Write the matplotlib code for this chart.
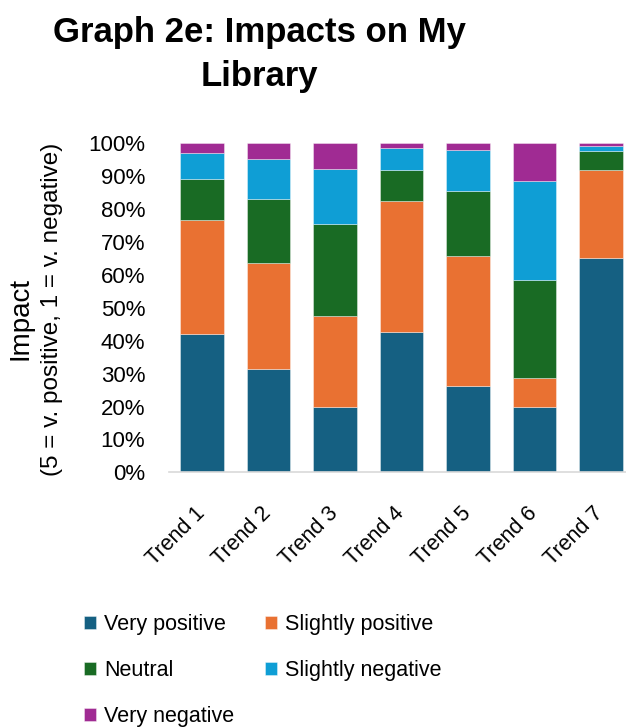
import numpy as np
import matplotlib
matplotlib.use("Agg")
import matplotlib.pyplot as plt
from matplotlib.transforms import ScaledTranslation

plt.rcParams['font.family'] = ['Liberation Sans', 'DejaVu Sans']

trends = ['Trend 1', 'Trend 2', 'Trend 3', 'Trend 4', 'Trend 5', 'Trend 6', 'Trend 7']
series_names = ['Very positive', 'Slightly positive', 'Neutral',
                'Slightly negative', 'Very negative']

# share of responses (%) per trend
very_positive = [41.9, 31.3, 19.8, 42.5, 26.3, 20.0, 65.0]
slightly_positive = [34.9, 32.3, 27.6, 40.1, 39.3, 8.8, 26.9]
neutral = [12.2, 19.5, 28.2, 9.4, 19.9, 29.8, 5.9]
slightly_negative = [8.2, 12.1, 16.7, 6.6, 12.4, 29.8, 1.5]
very_negative = [2.8, 4.8, 7.7, 1.4, 2.1, 11.6, 0.7]

colors = ['#156082', '#E97132', '#196B24', '#0F9ED5', '#A02B93']

fig = plt.figure(figsize=(6.26, 7.27), dpi=100)
ax = fig.add_axes([0.2696, 0.3503, 0.7436, 0.4526])

x = np.arange(len(trends))
bottom = np.zeros(len(trends))
handles = []
for name, vals, c in zip(series_names,
                         [very_positive, slightly_positive, neutral,
                          slightly_negative, very_negative], colors):
    vals = np.array(vals)
    b = ax.bar(x, vals, 0.66, bottom=bottom, color=c, label=name,
               edgecolor=(1, 1, 1, 0.45), linewidth=0.6)
    handles.append(b)
    bottom += vals

ax.set_xlim(-0.5, len(trends) - 0.5)
ax.set_ylim(0, 100)
ax.set_yticks(np.arange(0, 101, 10))
ax.set_yticklabels([f'{v}%' for v in range(0, 101, 10)], fontsize=16)
ax.set_xticks(x)
ax.set_xticklabels(trends, rotation=45, ha='right', rotation_mode='anchor',
                   fontsize=15.5)
ax.tick_params(axis='y', length=0, pad=17)
ax.tick_params(axis='x', length=0, pad=22)
# nudge the slanted labels left so they end under each bar
shift = ScaledTranslation(-8 / 100, 0, fig.dpi_scale_trans)
for lbl in ax.get_xticklabels():
    lbl.set_transform(lbl.get_transform() + shift)
for side in ['top', 'right', 'left']:
    ax.spines[side].set_visible(False)
ax.spines['bottom'].set_color('#d9d9d9')
ax.spines['bottom'].set_linewidth(1.2)

fig.text(0.414, 0.978, 'Graph 2e: Impacts on My\nLibrary', ha='center', va='top',
         fontsize=25, fontweight='bold', linespacing=1.42)

fig.text(0.033, 0.562, 'Impact', rotation=90, ha='center', va='center',
         fontsize=20)
fig.text(0.083, 0.574, '(5 = v. positive, 1 = v. negative)', rotation=90,
         ha='center', va='center', fontsize=17.5)

# row-major order in a two-column legend
order = [0, 2, 4, 1, 3]
fig.legend([handles[i] for i in order], [series_names[i] for i in order],
           loc='upper left', bbox_to_anchor=(0.104, 0.182), ncol=2, frameon=False,
           fontsize=15.5, handlelength=0.55, handleheight=0.55, handletextpad=0.35,
           columnspacing=1.45, labelspacing=1.16)

fig.savefig('out.png', dpi=100)
